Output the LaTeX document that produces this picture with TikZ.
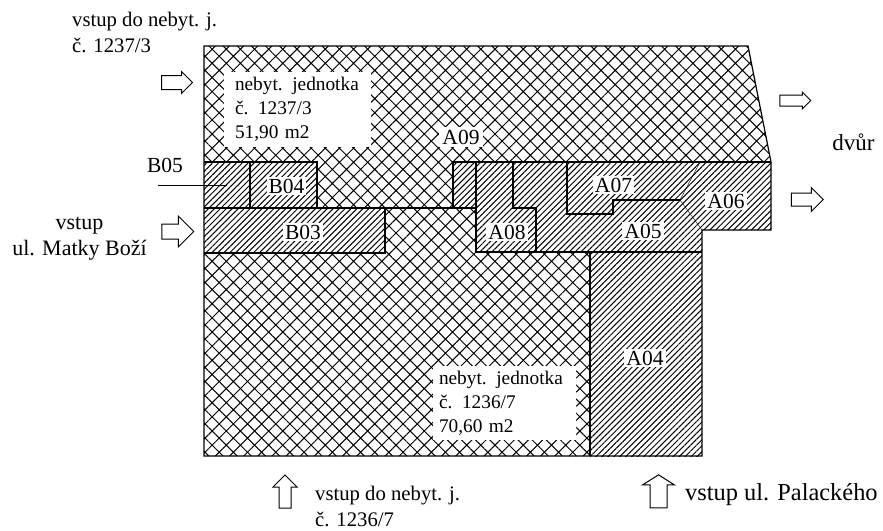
\documentclass[tikz,border=0pt]{standalone}
\usepackage{fontspec}
\setmainfont{Liberation Serif}
\usetikzlibrary{patterns.meta, shapes.arrows}

\tikzset{
  crossfill/.style = {pattern = {Hatch[angle=45, distance=10pt, line width=1pt]}, pattern color = black},
  hatchfill/.style = {pattern = {Lines[angle=45, distance=4.2pt, line width=1pt]}, pattern color = black},
  wall/.style = {line width = 1.2pt},
  room/.style = {fill = white, inner sep = 2pt, font = \fontsize{21.5}{21.5}\selectfont},
  unitbox/.style = {fill = white, align = left, font = \fontsize{19.3}{24}\selectfont},
  note/.style = {align = left, inner sep = 0pt, font = \fontsize{20.7}{26}\selectfont},
  way/.style 2 args = {shape = single arrow, draw, line width = 1pt, inner sep = 0pt,
    text height = #1, text depth = 0pt, single arrow head extend = #2}
}

\begin{document}
\begin{tikzpicture}[x = 1pt, y = -1pt]
  \useasboundingbox (0,0) rectangle (883,530);

  % crosshatched units
  \path[crossfill] (204,46) -- (748,46) -- (771,162) -- (204,162) -- cycle;
  \path[crossfill] (317,162) rectangle (453,208);
  \path[crossfill] (204,253) -- (385,253) -- (385,208) -- (476,208) -- (476,252)
    -- (590,252) -- (590,456) -- (204,456) -- cycle;

  % hatched rooms
  \path[hatchfill] (204,162) rectangle (317,208);
  \path[hatchfill] (204,208) rectangle (385,253);
  \path[hatchfill] (453,162) -- (771,162) -- (771,230) -- (702,230) -- (702,252)
    -- (476,252) -- (476,208) -- (453,208) -- cycle;
  \path[hatchfill] (590,252) rectangle (702,456);

  % walls
  \draw[wall] (204,162) -- (204,46) -- (748,46) -- (771,162) -- (771,230) -- (702,230)
    -- (702,456) -- (204,456) -- cycle;
  \draw[wall] (204,162) -- (317,162) -- (317,208);
  \draw[wall] (453,208) -- (453,162) -- (771,162);
  \draw[wall] (204,208) -- (476,208) -- (476,252);
  \draw[wall] (204,253) -- (385,253) -- (385,208);
  \draw[wall] (250,162) -- (250,208);
  \draw[wall] (476,162) -- (476,208);
  \draw[wall] (513,162) -- (513,208) -- (536,208) -- (536,252);
  \draw[wall] (476,252) -- (702,252);
  \draw[wall] (590,252) -- (590,456);
  \draw[wall] (567,162) -- (567,214) -- (613,214) -- (613,200) -- (680,200);
  \draw (680,200) -- (700,162);
  \draw (680,200) -- (702,230);

  % unit labels
  \node[unitbox, minimum width = 147pt, minimum height = 75pt, text width = 124pt] (unit1) at (297,109)
    {nebyt. jednotka\\č. 1237/3\\51,90 m2};
  \node[unitbox, minimum width = 143pt, minimum height = 74pt, text width = 130pt] (unit2) at (504,403)
    {nebyt. jednotka\\č. 1236/7\\70,60 m2};

  % room labels
  \node[room] (A04) at (645,358) {A04};
  \node[room] (A05) at (643,231) {A05};
  \node[room] (A06) at (726,201) {A06};
  \node[room] (A07) at (613.5,185) {A07};
  \node[room] (A08) at (507,232) {A08};
  \node[room, inner sep = 3pt] (A09) at (461,137) {A09};
  \node[room] (B03) at (303,232) {B03};
  \node[room] (B04) at (286.5,186) {B04};

  % B05 is named outside
  \node[note, font = \fontsize{21.5}{21.5}\selectfont] (B05) at (165,165) {B05};
  \coordinate (leaderstart) at (158,185.5);
  \coordinate (leaderend) at (227,185.5);
  \draw[wall] (leaderstart) -- (leaderend);

  % entrances
  \node[way={13pt}{4pt}, minimum width = 21pt, minimum height = 31pt] (way1) at (173.5,82.5) {};
  \node[way={14pt}{8pt}, minimum width = 30pt, minimum height = 32pt] (way2) at (174,231.5) {};
  \node[way={10pt}{3pt}, minimum width = 16pt, minimum height = 31pt] (way3) at (792.5,100.5) {};
  \node[way={12pt}{5.5pt}, minimum width = 23pt, minimum height = 32pt] (way4) at (804,199.5) {};
  \node[way={11pt}{6pt}, minimum width = 23pt, minimum height = 33pt, rotate = 90] (way5) at (285,494.5) {};
  \node[way={16pt}{7.5pt}, minimum width = 31pt, minimum height = 33pt, rotate = 90, single arrow tip angle = 115] (way6) at (658.5,494) {};

  % entrance texts
  \node[note, anchor = north west] (text1) at (72,12) {vstup do nebyt. j.\\č. 1237/3};
  \node[note, align = center, anchor = north, font = \fontsize{22}{26}\selectfont] (text2) at (79.5,217) {vstup\\ul. Matky Boží};
  \node[note, font = \fontsize{23}{23}\selectfont] (text3) at (853.5,142) {dvůr};
  \node[note, anchor = north west] (text4) at (315,485.5) {vstup do nebyt. j.\\č. 1236/7};
  \node[note, anchor = west, font = \fontsize{24.4}{24.4}\selectfont] (text5) at (685,495) {vstup ul. Palackého};
\end{tikzpicture}
\end{document}
